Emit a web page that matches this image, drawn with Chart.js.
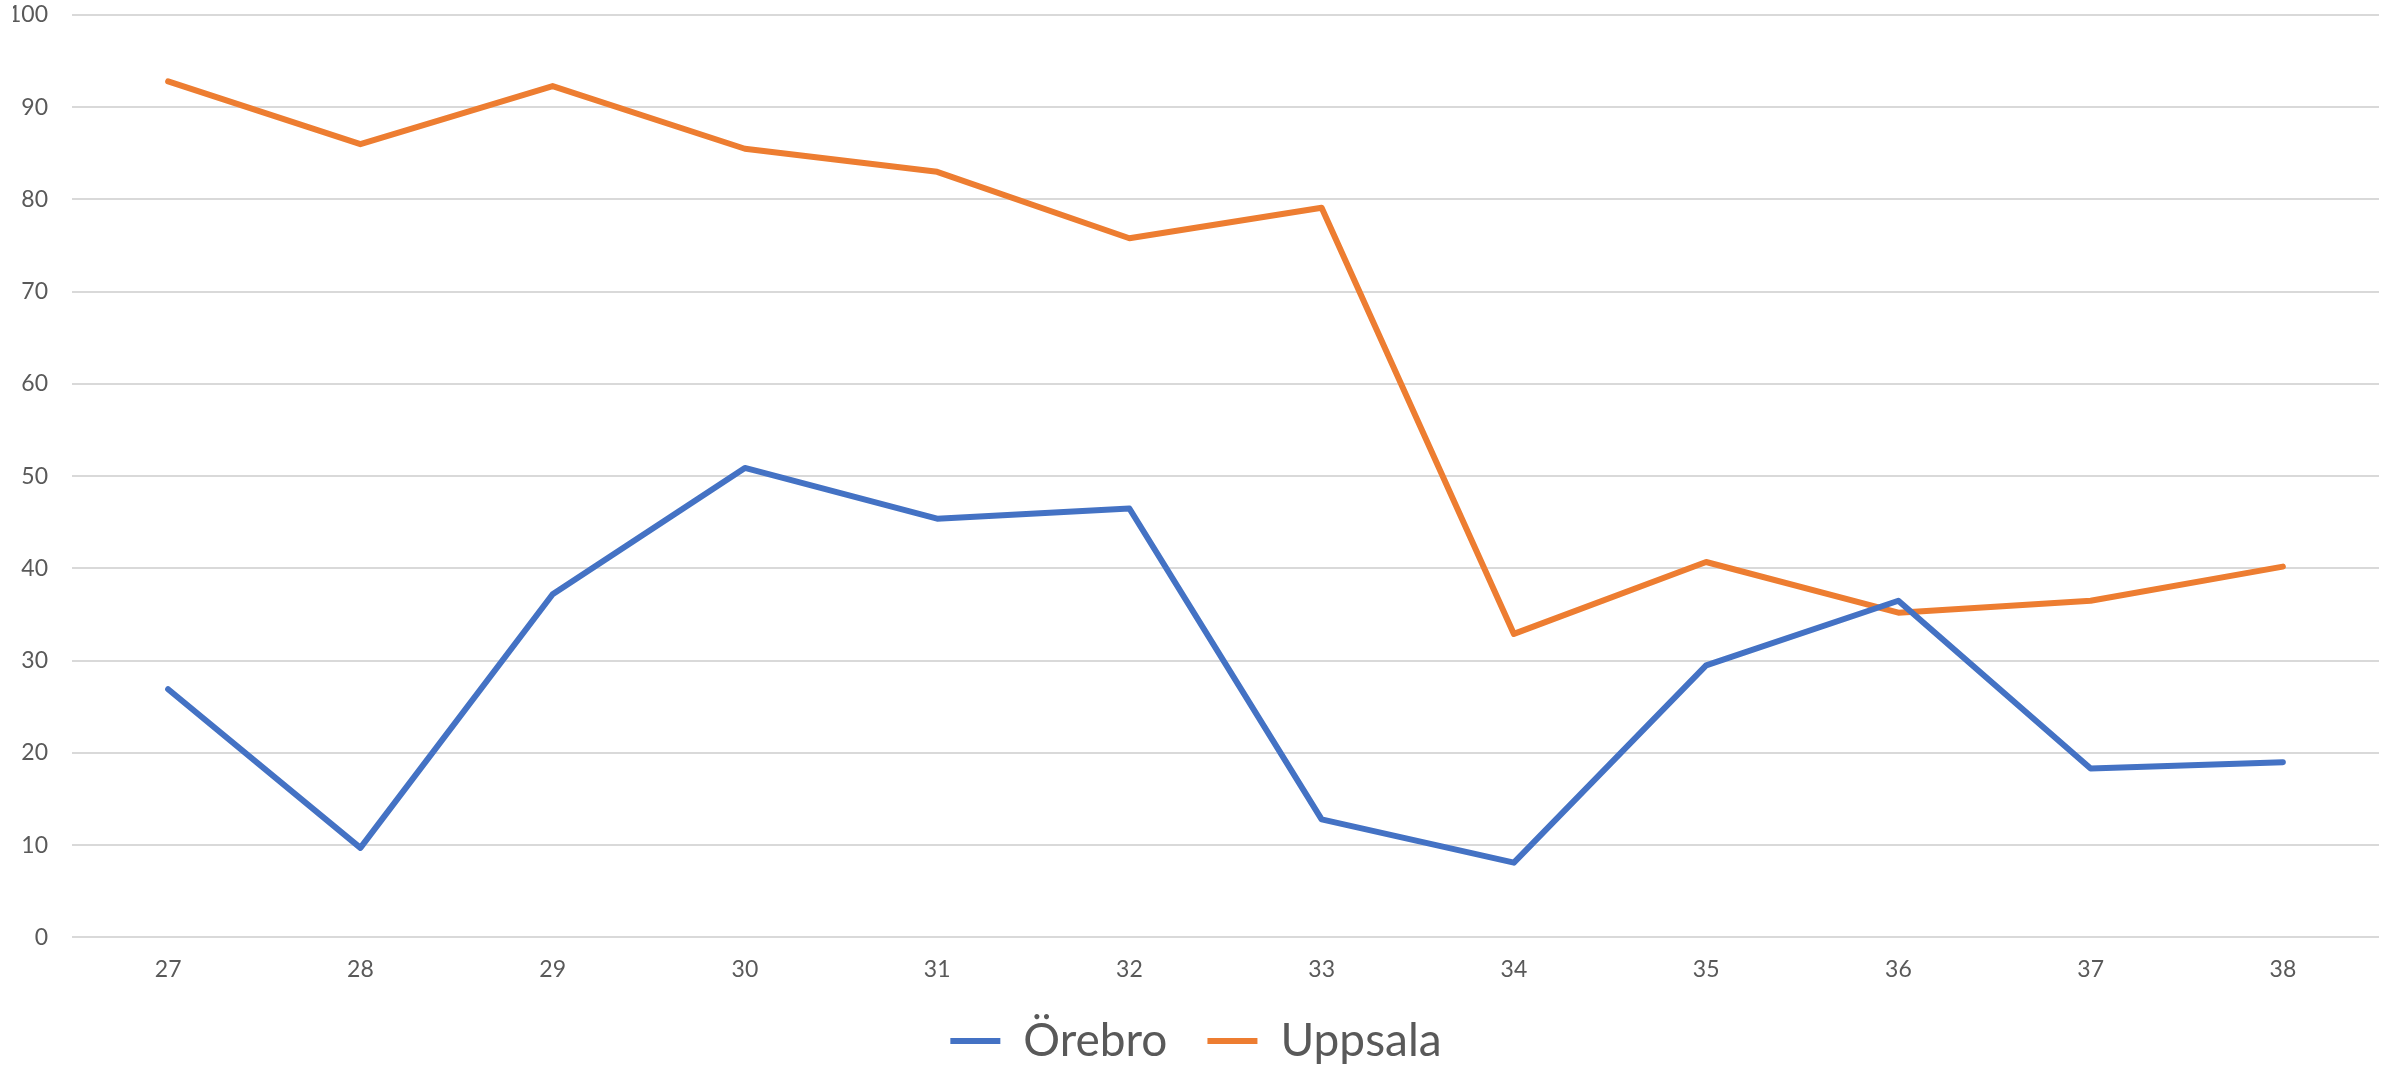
<!DOCTYPE html>
<html>
<head>
<meta charset="utf-8">
<script src="https://cdn.jsdelivr.net/npm/chart.js@4/dist/chart.umd.min.js"></script>
<style>
  html, body { margin: 0; padding: 0; background: #fff; }
  #wrap { width: 2394px; height: 1065px; }
</style>
</head>
<body>
<div id="wrap"><canvas id="myChart" width="2394" height="1065"></canvas></div>
<script>
var weeks = ['27', '28', '29', '30', '31', '32', '33', '34', '35', '36', '37', '38'];
var orebro = [26.9, 9.7, 37.2, 50.9, 45.4, 46.5, 12.8, 8.1, 29.5, 36.5, 18.3, 19.0];
var uppsala = [92.8, 86.0, 92.3, 85.5, 83.0, 75.8, 79.1, 32.9, 40.7, 35.2, 36.5, 40.2];

var textColor = '#595959';
var gridColor = '#d9d9d9';

// legend box keeps 10px spare under the row, trim it so the row sits lower
var legendNudge = {
    id: 'legendNudge',
    beforeLayout: function (chart) {
        var legend = chart.legend;
        if (legend && !legend._nudged) {
            var fit = legend.fit;
            legend.fit = function () {
                fit.call(this);
                this.height -= 9;
            };
            legend._nudged = true;
        }
    }
};

function renderChart() {
    var ctx = document.getElementById('myChart').getContext('2d');
    var myChart = new Chart(ctx, {
        type: 'line',
        data: {
            labels: weeks,
            datasets: [{
                label: 'Örebro',
                data: orebro,
                borderColor: '#4472C4',
                backgroundColor: '#4472C4',
                borderWidth: 6,
                borderCapStyle: 'round',
                borderJoinStyle: 'round',
                pointRadius: 0,
                tension: 0
            }, {
                label: 'Uppsala',
                data: uppsala,
                borderColor: '#ED7D31',
                backgroundColor: '#ED7D31',
                borderWidth: 6,
                borderCapStyle: 'round',
                borderJoinStyle: 'round',
                pointRadius: 0,
                tension: 0
            }]
        },
        plugins: [legendNudge],
        options: {
            responsive: false,
            animation: false,
            layout: { autoPadding: false, padding: { left: 13, right: 15, top: 15, bottom: 0 } },
            plugins: {
                tooltip: { enabled: false },
                legend: {
                    position: 'bottom',
                    labels: {
                        usePointStyle: true,
                        pointStyle: 'line',
                        pointStyleWidth: 50,
                        color: textColor,
                        padding: 40,
                        font: { family: 'Lato', size: 46 }
                    }
                }
            },
            scales: {
                x: {
                    offset: true,
                    grid: { display: false },
                    border: { display: false },
                    ticks: {
                        color: textColor,
                        padding: 10,
                        maxRotation: 0,
                        font: { family: 'Lato', size: 23 }
                    },
                    afterFit: function (scale) {
                        scale.height -= 15;
                    }
                },
                y: {
                    min: 0,
                    max: 100,
                    grid: { color: gridColor, lineWidth: 2, drawTicks: false },
                    border: { display: false },
                    ticks: {
                        stepSize: 10,
                        color: textColor,
                        padding: 24,
                        font: { family: 'Lato', size: 23 }
                    },
                    afterFit: function (scale) {
                        scale.paddingTop = 14;
                        scale.width = 59;
                    }
                }
            }
        }
    });
}
renderChart();
</script>
</body>
</html>
